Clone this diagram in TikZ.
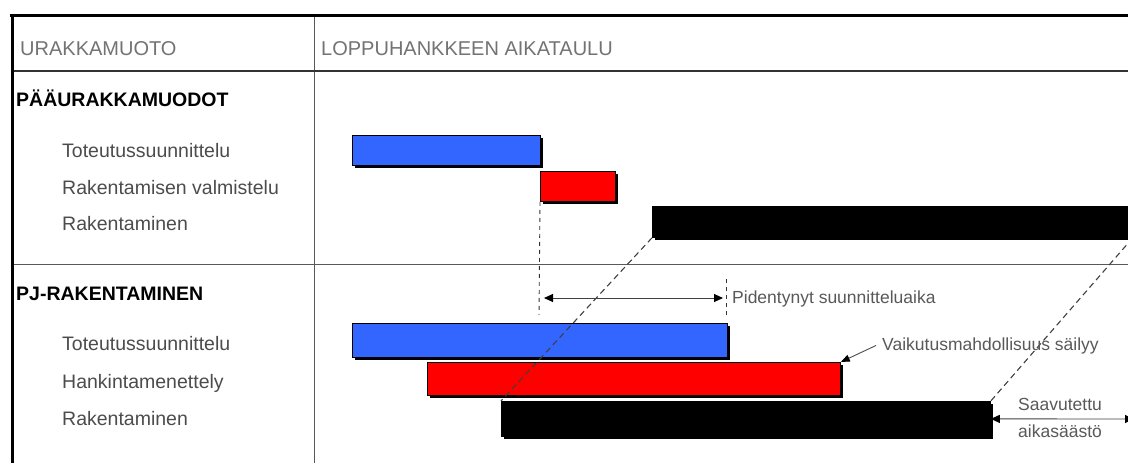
\documentclass[tikz,border=0pt]{standalone}
\usepackage{fontspec}
\setmainfont{Liberation Sans}
\usetikzlibrary{arrows.meta,shadows}
\definecolor{barblue}{HTML}{3366FF}
\definecolor{barred}{HTML}{FF0000}
\begin{document}
\begin{tikzpicture}[x=1pt,y=-1pt,
  bar/.style={draw=black, line width=0.8pt, inner sep=0pt, anchor=north west,
    drop shadow={shadow xshift=2.5pt, shadow yshift=-2.5pt, fill=black, opacity=1}},
  headtxt/.style={anchor=base west, inner sep=0pt, text=black!55, font=\fontsize{20}{24}\selectfont},
  grouptxt/.style={anchor=base west, inner sep=0pt, text=black, font=\fontsize{19.5}{23}\selectfont\bfseries},
  rowtxt/.style={anchor=base west, inner sep=0pt, text=black!70, font=\fontsize{19.5}{23}\selectfont},
  notetxt/.style={anchor=base west, inner sep=0pt, text=black!65, font=\fontsize{17.5}{21}\selectfont},
  guide/.style={draw=black!80, line width=0.9pt, dash pattern=on 4pt off 4pt},
  slant/.style={draw=black!75, line width=1.1pt, dash pattern=on 6pt off 4pt},
  span/.style={draw=black!75, line width=0.9pt,
    {Triangle[length=9pt,width=8pt,color=black]}-{Triangle[length=9pt,width=8pt,color=black]}},
  pointer/.style={draw=black!70, line width=0.9pt, -{Triangle[length=9pt,width=7pt,color=black]}},
  rule/.style={draw=black!65, line width=1pt}]

\path[use as bounding box, clip] (0,0) rectangle (1128,463);
\fill[white] (0,0) rectangle (1128,463);

% table frame
\draw[rule] (314,15) -- (314,463);
\draw[rule] (12,264) -- (1128,264);
\draw[draw=black!80, line width=2.2pt] (12,71) -- (1128,71);
\draw[draw=black, line width=3pt] (10,15) -- (1128,15);
\draw[draw=black, line width=3pt] (12,15) -- (12,463);

% headings
\node[headtxt] (hform) at (20,55) {URAKKAMUOTO};
\node[headtxt] (hsched) at (321,55) {LOPPUHANKKEEN AIKATAULU};
\node[grouptxt] (gmain) at (16,106) {PÄÄURAKKAMUODOT};
\node[grouptxt] (gpj) at (16,300) {PJ-RAKENTAMINEN};

% row labels
\node[rowtxt] (l1) at (62,157) {Toteutussuunnittelu};
\node[rowtxt] (l2) at (62,194) {Rakentamisen valmistelu};
\node[rowtxt] (l3) at (62,230) {Rakentaminen};
\node[rowtxt] (l4) at (62,350) {Toteutussuunnittelu};
\node[rowtxt] (l5) at (62,388) {Hankintamenettely};
\node[rowtxt] (l6) at (62,425) {Rakentaminen};

% bars: main contracting forms
\node[bar, fill=barblue, minimum width=188pt, minimum height=30pt] (b1) at (352,135) {};
\node[bar, fill=barred, minimum width=75pt, minimum height=30pt] (r1) at (540,171) {};
\node[bar, fill=black, minimum width=480pt, minimum height=31pt] (k1) at (652,206) {};

% bars: PJ contracting
\node[bar, fill=barblue, minimum width=375pt, minimum height=34pt] (b2) at (352,323) {};
\node[bar, fill=barred, minimum width=413pt, minimum height=33pt] (r2) at (427,362) {};
\node[bar, fill=black, minimum width=489pt, minimum height=35pt] (k2) at (501,401) {};

% shift of the construction phase
\draw[slant] (k1.south west) -- (k2.north west);
\draw[slant] (k1.south east) -- (k2.north east);

% longer design period
\coordinate (v1b) at (539,315);
\coordinate (v2t) at (726,279);
\coordinate (v2b) at (726,315);
\draw[guide] (r1.south west) -- (v1b);
\draw[guide] (v2t) -- (v2b);
\coordinate (a1) at (544,298);
\coordinate (a2) at (723,298);
\draw[span] (a1) -- (a2);
\node[notetxt] (tlong) at (732,303) {Pidentynyt suunnitteluaika};

% influence retained
\node[notetxt] (tinfl) at (882,350) {Vaikutusmahdollisuus säilyy};
\draw[pointer] ([xshift=-6pt]tinfl.west) -- (r2.north east);

% time saved
\coordinate (sEnd) at (1134,419);
\draw[span] (k2.east) -- (sEnd);
\node[notetxt] (tsave1) at (1018,410) {Saavutettu};
\node[notetxt] (tsave2) at (1018,437) {aikasäästö};
\end{tikzpicture}
\end{document}
